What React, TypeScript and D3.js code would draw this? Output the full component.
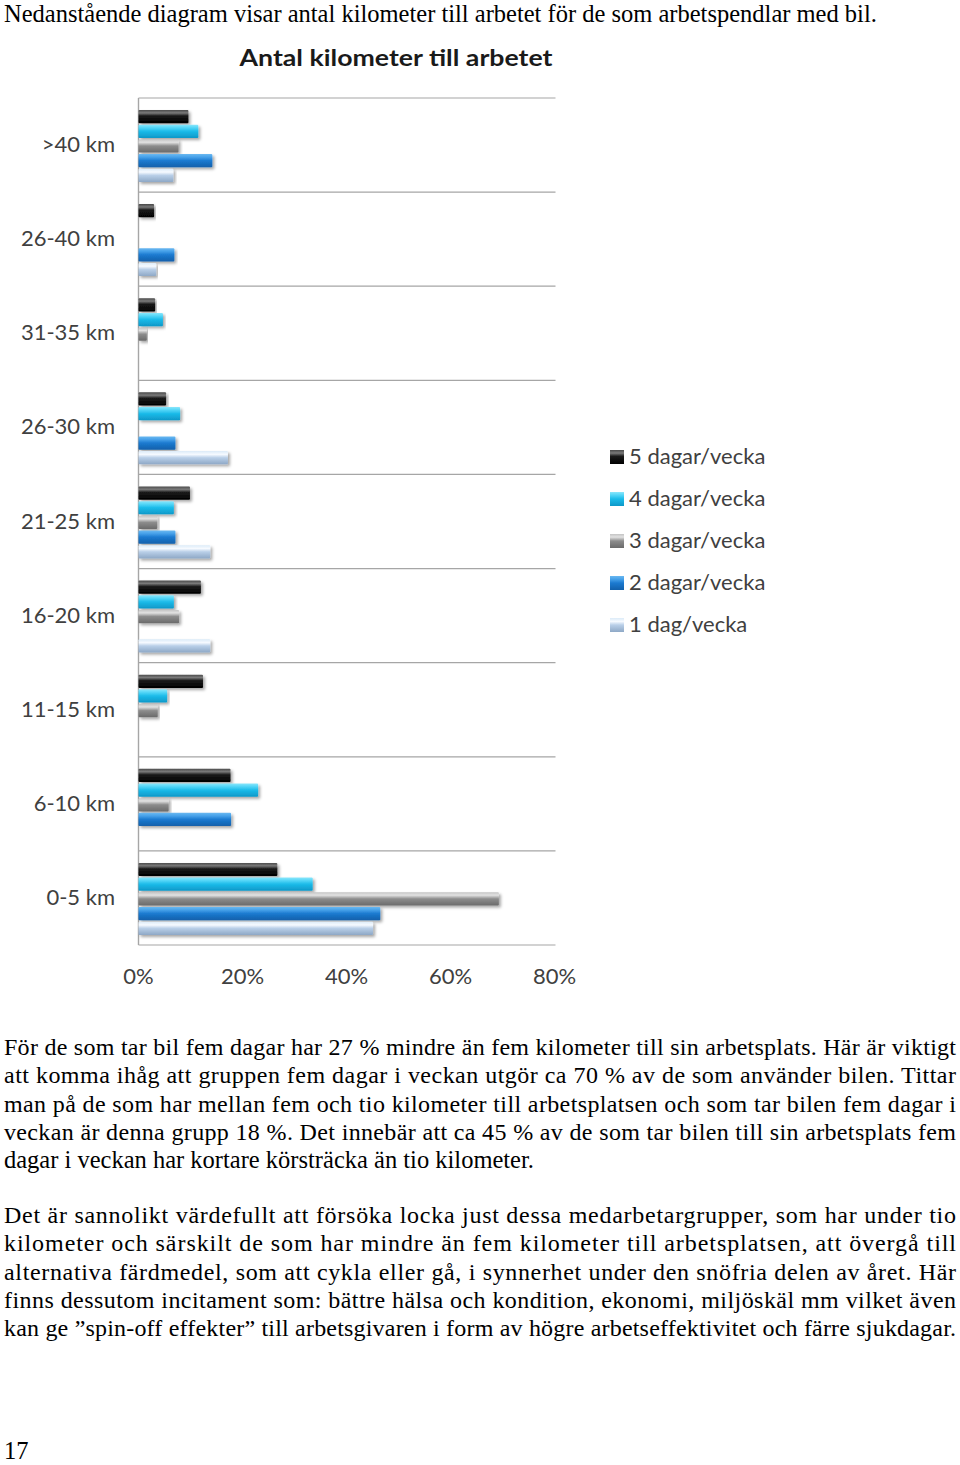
import React from "react";
import * as d3 from "d3";

const categories = [">40 km", "26-40 km", "31-35 km", "26-30 km", "21-25 km", "16-20 km", "11-15 km", "6-10 km", "0-5 km"];
const seriesNames = ["5 dagar/vecka", "4 dagar/vecka", "3 dagar/vecka", "2 dagar/vecka", "1 dag/vecka"];
// values in percent, per category (same order as categories); 0 = no bar
const s5 = [9.6, 3.0, 3.2, 5.3, 9.9, 12.0, 12.4, 17.7, 26.7];
const s4 = [11.5, 0, 4.7, 8.0, 6.8, 6.8, 5.5, 23.0, 33.5];
const s3 = [7.7, 0, 1.6, 0, 3.6, 7.8, 3.7, 5.8, 69.3];
const s2 = [14.2, 6.9, 0, 7.1, 7.1, 0, 0, 17.8, 46.5];
const s1 = [6.7, 3.4, 0, 17.2, 13.8, 13.8, 0, 0, 45.1];
const seriesValues = [s5, s4, s3, s2, s1];
const xTicks = [0, 20, 40, 60, 80];

const title = "Antal kilometer till arbetet";
const intro = "Nedanstående diagram visar antal kilometer till arbetet för de som arbetspendlar med bil.";
const para1 = [
  "För de som tar bil fem dagar har 27 % mindre än fem kilometer till sin arbetsplats. Här är viktigt",
  "att komma ihåg att gruppen fem dagar i veckan utgör ca 70 % av de som använder bilen. Tittar",
  "man på de som har mellan fem och tio kilometer till arbetsplatsen och som tar bilen fem dagar i",
  "veckan är denna grupp 18 %. Det innebär att ca 45 % av de som tar bilen till sin arbetsplats fem",
  "dagar i veckan har kortare körsträcka än tio kilometer.",
];
const para2 = [
  "Det är sannolikt värdefullt att försöka locka just dessa medarbetargrupper, som har under tio",
  "kilometer och särskilt de som har mindre än fem kilometer till arbetsplatsen, att övergå till",
  "alternativa färdmedel, som att cykla eller gå, i synnerhet under den snöfria delen av året. Här",
  "finns dessutom incitament som: bättre hälsa och kondition, ekonomi, miljöskäl mm vilket även",
  "kan ge ”spin-off effekter” till arbetsgivaren i form av högre arbetseffektivitet och färre sjukdagar.",
];
const pageNumber = "17";

const gradients = [
  [["0", "#4a4a4a"], ["0.22", "#7a7a7a"], ["0.45", "#1a1a1a"], ["1", "#000000"]],
  [["0", "#8ae6fb"], ["0.22", "#55d6f7"], ["0.5", "#1bbbe9"], ["1", "#0e98c8"]],
  [["0", "#c4c4c4"], ["0.22", "#e2e2e2"], ["0.5", "#8c8c8c"], ["1", "#6a6a6a"]],
  [["0", "#6ab8f0"], ["0.22", "#48a2ea"], ["0.5", "#1c7ad0"], ["1", "#1260ab"]],
  [["0", "#dcebf8"], ["0.25", "#f6faff"], ["0.5", "#b9cfe8"], ["1", "#8ea8c6"]],
];

export default function App() {
  const x0 = 138.5, x1 = 554.5;
  const x = d3.scaleLinear().domain([0, 80]).range([x0, x1]);
  const y = d3.scaleBand<string>().domain(categories).range([98, 945]).paddingInner(0);
  const yi = d3.scaleBand<number>().domain(d3.range(seriesNames.length)).range([12, 84]).paddingInner(0.1);
  const sans = "Lato, 'Open Sans', sans-serif";
  const serif = "'Liberation Serif', 'DejaVu Serif', serif";
  const textColor = "#404040";
  const fullW = 952;
  const fs = 24.5;

  const paraLines = (lines: string[], y0: number) =>
    lines.map((l, i) => {
      const last = i === lines.length - 1;
      const justify = !last || l.length > 95;
      return (
        <text key={i} x={4} y={y0 + i * 28.3} fontFamily={serif} fontSize={justify ? 24 : fs} fill="#000"
          {...(justify ? { textLength: fullW, lengthAdjust: "spacing" } : {})}>
          {l}
        </text>
      );
    });

  return (
    <svg width={960} height={1465} style={{ position: "absolute", left: 0, top: 0, background: "#fff" }}>
      <defs>
        {gradients.map((g, i) => (
          <linearGradient key={i} id={`g${i}`} x1="0" y1="0" x2="0" y2="1">
            {g.map(([o, c], j) => <stop key={j} offset={o} stopColor={c} />)}
          </linearGradient>
        ))}
        <filter id="sh" x="-5%" y="-30%" width="115%" height="180%">
          <feDropShadow dx="2" dy="2" stdDeviation="1.5" floodColor="#000" floodOpacity="0.35" />
        </filter>
      </defs>
      <rect x={0} y={0} width={960} height={1465} fill="#fff" />
      <text x={4} y={22} fontFamily={serif} fontSize={fs} fill="#000">{intro}</text>

      <text x={396} y={66} textAnchor="middle" fontFamily={sans} fontWeight="bold" fontSize={23}
        fill="#1a1a1a" textLength={313} lengthAdjust="spacingAndGlyphs">{title}</text>

      {/* grid lines */}
      {categories.map((c) => (
        <line key={c} x1={x0} x2={x1 + 1} y1={y(c)!} y2={y(c)!} stroke="#a6a6a6" strokeWidth={1.2} />
      ))}
      <line x1={x0} x2={x1 + 1} y1={945} y2={945} stroke="#a6a6a6" strokeWidth={1.2} />
      <line x1={x0} x2={x0} y1={98} y2={945} stroke="#a6a6a6" strokeWidth={1.4} />

      {/* bars */}
      {categories.map((c, ci) => (
        <g key={c}>
          {seriesValues.map((vals, si) => {
            const v = vals[ci];
            if (!v) return null;
            const by = y(c)! + yi(si)!;
            const h = yi.bandwidth();
            return (
              <g key={si} filter="url(#sh)">
                <rect x={x(0)} y={by} width={x(v) - x(0)} height={h} fill={`url(#g${si})`} rx={1} />
              </g>
            );
          })}
        </g>
      ))}

      {/* category labels */}
      {categories.map((c) => (
        <text key={c} x={115} y={y(c)! + y.bandwidth() / 2 + 7} textAnchor="end" fontFamily={sans}
          fontSize={22} fill={textColor}>{c}</text>
      ))}

      {/* x tick labels */}
      {xTicks.map((t) => (
        <text key={t} x={x(t)} y={984} textAnchor="middle" fontFamily={sans} fontSize={22} fill={textColor}>
          {t}%
        </text>
      ))}

      {/* legend */}
      {seriesNames.map((n, i) => (
        <g key={n} transform={`translate(610, ${456 + i * 42})`}>
          <rect x={0} y={-6} width={14} height={14} fill={`url(#g${i})`} />
          <text x={19} y={8} fontFamily={sans} fontSize={22} fill={textColor}>{n}</text>
        </g>
      ))}

      {paraLines(para1, 1055)}
      {paraLines(para2, 1223)}
      <text x={4} y={1459} fontFamily={serif} fontSize={fs} fill="#000">{pageNumber}</text>
    </svg>
  );
}
